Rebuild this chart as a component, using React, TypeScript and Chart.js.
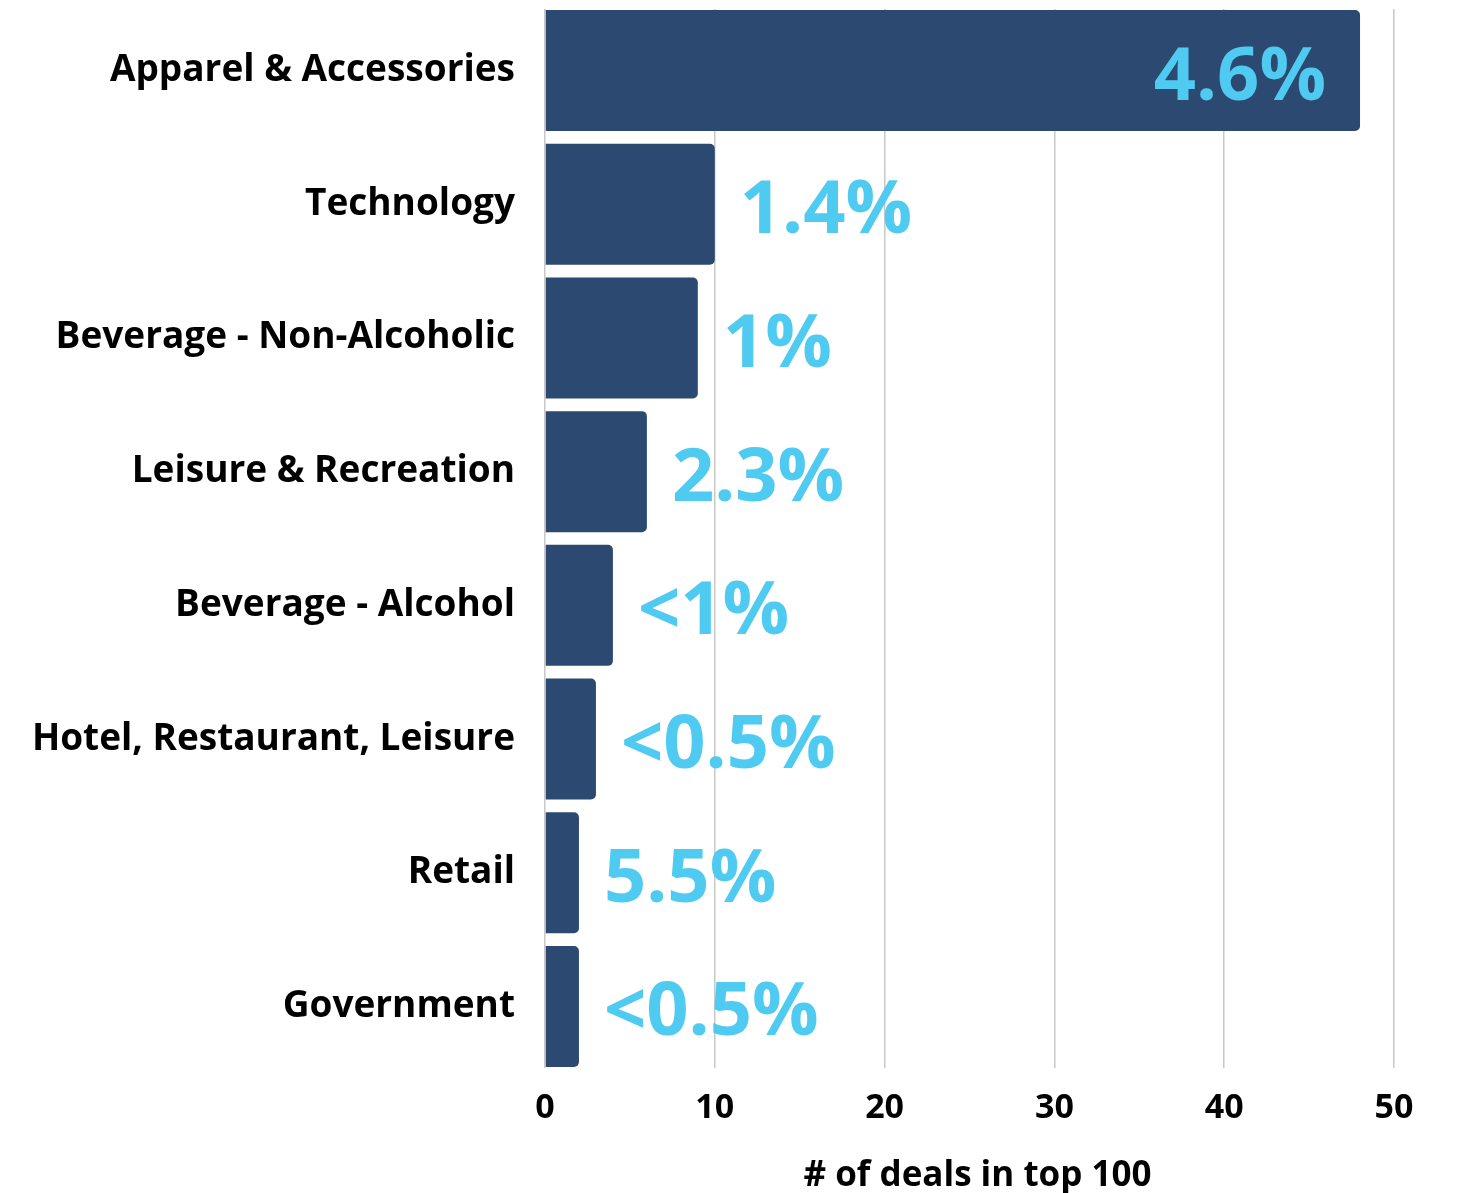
import React, { useEffect, useRef } from "react";
import { Chart, registerables } from "chart.js";

Chart.register(...registerables);

const categories = [
  "Apparel & Accessories",
  "Technology",
  "Beverage - Non-Alcoholic",
  "Leisure & Recreation",
  "Beverage - Alcohol",
  "Hotel, Restaurant, Leisure",
  "Retail",
  "Government",
];
const deals = [48, 10, 9, 6, 4, 3, 2, 2];
const shareLabels = ["4.6%", "1.4%", "1%", "2.3%", "<1%", "<0.5%", "5.5%", "<0.5%"];
const xTicks = [0, 10, 20, 30, 40, 50];
const xTitle = "# of deals in top 100";

const BAR = "#2C4972";
const LABEL = "#4FCAF0";
const FONT = "'Open Sans', 'Noto Sans', sans-serif";

const labelPlugin = {
  id: "shareLabels",
  afterDatasetsDraw(chart: any) {
    const ctx = chart.ctx;
    const meta = chart.getDatasetMeta(0);
    ctx.save();
    ctx.font = `700 74px ${FONT}`;
    ctx.fillStyle = LABEL;
    ctx.textBaseline = "alphabetic";
    meta.data.forEach((bar: any, i: number) => {
      const txt = shareLabels[i];
      const w = ctx.measureText(txt).width;
      const inside = bar.x - bar.base > w + 60;
      if (inside) {
        ctx.textAlign = "right";
        ctx.fillText(txt, bar.x - 34, bar.y + 29);
      } else {
        ctx.textAlign = "left";
        ctx.fillText(txt, bar.x + 25, bar.y + 29);
      }
    });
    ctx.restore();
  },
  afterDraw(chart: any) {
    const ctx = chart.ctx;
    const area = chart.chartArea;
    ctx.save();
    ctx.font = `700 35px ${FONT}`;
    ctx.fillStyle = "#000";
    ctx.textAlign = "center";
    ctx.textBaseline = "alphabetic";
    ctx.fillText(xTitle, (area.left + area.right) / 2 + 8, 1186);
    ctx.restore();
  },
};

export default function App() {
  const ref = useRef<HTMLCanvasElement | null>(null);
  useEffect(() => {
    if (!ref.current) return;
    const chart = new Chart(ref.current, {
      type: "bar",
      data: {
        datasets: [
          {
            data: deals.map((v, i) => ({ x: v, y: i })),
            backgroundColor: BAR,
            borderRadius: 5,
            borderSkipped: "start",
            barPercentage: 0.905,
            categoryPercentage: 1,
          },
        ],
      },
      options: {
        indexAxis: "y",
        responsive: false,
        animation: false,
        layout: { padding: { left: 0, right: 67, top: 9, bottom: 0 } },
        plugins: { legend: { display: false }, tooltip: { enabled: false } },
        scales: {
          x: {
            type: "linear",
            min: 0,
            max: 50,
            afterFit: (s: any) => {
              s.height = 125;
              s.paddingLeft = 0;
              s.paddingRight = 0;
            },
            afterBuildTicks: (s: any) => {
              s.ticks = xTicks.map((v) => ({ value: v }));
            },
            grid: { color: "#C8C8C8", lineWidth: 1.5, drawTicks: false },
            border: { display: false },
            ticks: {
              color: "#000",
              padding: 20,
              font: { family: FONT, size: 34, weight: "700" },
            },
          },
          y: {
            type: "linear",
            reverse: true,
            offset: false,
            min: -0.46,
            max: categories.length - 1 + 0.46,
            afterFit: (s: any) => {
              s.width = 545;
              s.paddingTop = 0;
              s.paddingBottom = 0;
            },
            afterBuildTicks: (s: any) => {
              s.ticks = categories.map((_, i) => ({ value: i }));
            },
            grid: { display: false, drawTicks: false, offset: false },
            border: { display: false },
            ticks: {
              color: "#000",
              padding: 30,
              font: { family: FONT, size: 37, weight: "700" },
              callback: (v: any) => categories[v as number] ?? "",
            },
          },
        },
      },
      plugins: [labelPlugin],
    });
    return () => chart.destroy();
  }, []);
  return (
    <div style={{ position: "absolute", left: 0, top: 0, width: 1461, height: 1193, background: "#fff" }}>
      <canvas ref={ref} width={1461} height={1193} style={{ display: "block" }} />
    </div>
  );
}
